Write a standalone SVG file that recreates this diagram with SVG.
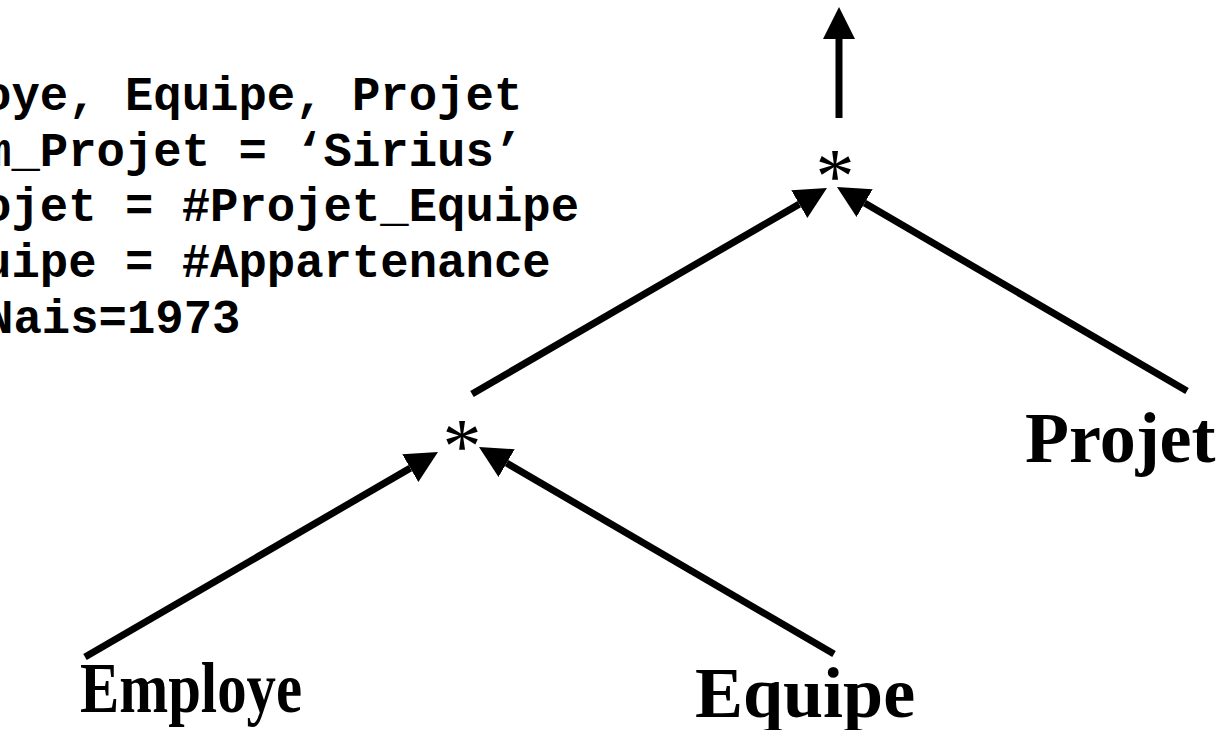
<svg xmlns="http://www.w3.org/2000/svg" width="1227" height="730" viewBox="0 0 1227 730">
<style>
.sql{font-family:"Liberation Mono","Courier New",monospace;font-weight:bold;font-size:47.3px;fill:#000}
.lbl{font-family:"Liberation Serif","Times New Roman",serif;font-weight:bold;font-size:72px;fill:#000}
.op{font-family:"Liberation Serif","Times New Roman",serif;font-size:78px;fill:#000}
.edge{stroke:#000;stroke-width:7;fill:none;marker-end:url(#head)}
</style>
<defs>
<marker id="head" markerUnits="userSpaceOnUse" viewBox="0 0 32 32" markerWidth="32" markerHeight="32" refX="0" refY="16" orient="auto">
<path d="M0,0 L32,16 L0,32 z" fill="#000"/>
</marker>
</defs>
<rect width="1227" height="730" fill="#fff"/>
<g id="query">
<text class="sql" x="-17" y="110">oye, Equipe, Projet</text>
<text class="sql" x="-17" y="166">m_Projet = ‘Sirius’</text>
<text class="sql" x="-17" y="221">ojet = #Projet_Equipe</text>
<text class="sql" x="-17" y="277">uipe = #Appartenance</text>
<text class="sql" x="-15" y="333">Nais=1973</text>
</g>
<g id="connectors">
<path class="edge" d="M85,657 L410.3,468.1"/>
<path class="edge" d="M834,654 L506.6,463.1"/>
<path class="edge" d="M472,394 L799.3,204.1"/>
<path class="edge" d="M1187,391 L864.6,203.1"/>
<path class="edge" d="M839,118 L839,39"/>
</g>
<g id="join1"><text class="op" x="462" y="472" text-anchor="middle">*</text></g>
<g id="join2"><text class="op" x="835" y="202" text-anchor="middle">*</text></g>
<g id="employe"><text class="lbl" x="80" y="712" textLength="222" lengthAdjust="spacingAndGlyphs">Employe</text></g>
<g id="equipe"><text class="lbl" x="695" y="717">Equipe</text></g>
<g id="projet"><text class="lbl" x="1025" y="462">Projet</text></g>
</svg>
